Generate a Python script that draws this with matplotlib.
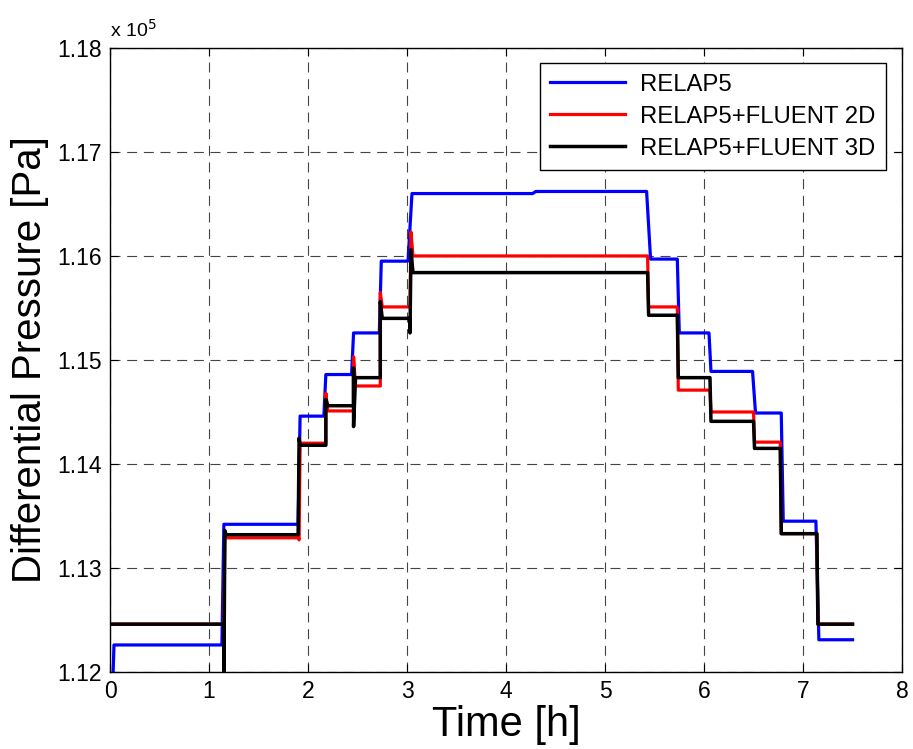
import matplotlib
matplotlib.use('Agg')
import matplotlib.pyplot as plt

plt.rcParams['font.family'] = ['Liberation Sans', 'DejaVu Sans']

# time [h] and differential pressure [x 1e5 Pa]
relap5_t = [0.03, 0.04, 1.13, 1.15, 1.90, 1.92, 2.16, 2.18, 2.44, 2.46, 2.72, 2.74,
            3.01, 3.05, 4.27, 4.30, 5.42, 5.46, 5.73, 5.75, 6.05, 6.07, 6.49, 6.52,
            6.78, 6.80, 7.13, 7.16, 7.50]
relap5_p = [1.1195, 1.1226, 1.1226, 1.1342, 1.1342, 1.1446, 1.1446, 1.1486, 1.1486, 1.1526,
            1.1526, 1.1595, 1.1595, 1.1660, 1.1660, 1.1662, 1.1662, 1.1597, 1.1597, 1.1526,
            1.1526, 1.1489, 1.1489, 1.1449, 1.1449, 1.1345, 1.1345, 1.1231, 1.1231]

fl2d_t = [0.00, 1.15, 1.16, 1.90, 1.91, 1.92, 2.18, 2.18, 2.20, 2.46, 2.46, 2.48,
          2.73, 2.73, 2.75, 3.03, 3.04, 3.06, 5.43, 5.44, 5.73, 5.74, 6.06, 6.07,
          6.50, 6.51, 6.77, 6.78, 7.14, 7.15, 7.50]
fl2d_p = [1.1246, 1.1246, 1.1329, 1.1329, 1.1327, 1.1420, 1.1420, 1.1468, 1.1451, 1.1451,
          1.1503, 1.1475, 1.1475, 1.1565, 1.1551, 1.1551, 1.1623, 1.1600, 1.1600, 1.1551,
          1.1551, 1.1471, 1.1471, 1.1450, 1.1450, 1.1421, 1.1421, 1.1333, 1.1333, 1.1246,
          1.1246]

fl3d_t = [0.00, 1.15, 1.15, 1.16, 1.17, 1.90, 1.91, 1.92, 2.18, 2.18, 2.20, 2.46,
          2.46, 2.46, 2.48, 2.73, 2.73, 2.75, 3.03, 3.03, 3.04, 3.06, 5.43, 5.44,
          5.73, 5.74, 6.06, 6.07, 6.50, 6.51, 6.77, 6.78, 7.14, 7.15, 7.50]
fl3d_p = [1.1246, 1.1246, 1.1190, 1.1336, 1.1332, 1.1332, 1.1425, 1.1418, 1.1418, 1.1462,
          1.1456, 1.1456, 1.1492, 1.1436, 1.1483, 1.1483, 1.1556, 1.1540, 1.1540, 1.1526,
          1.1606, 1.1584, 1.1584, 1.1543, 1.1543, 1.1483, 1.1483, 1.1441, 1.1441, 1.1415,
          1.1415, 1.1333, 1.1333, 1.1246, 1.1246]

fig = plt.figure(figsize=(9.13, 7.49), dpi=100)
ax = fig.add_axes([0.1205, 0.1028, 0.8675, 0.8332])

ax.plot(relap5_t, relap5_p, color='#0000ff', lw=2.3, label='RELAP5')
ax.plot(fl2d_t, fl2d_p, color='#ff0000', lw=2.3, label='RELAP5+FLUENT 2D')
ax.plot(fl3d_t, fl3d_p, color='black', lw=2.5, label='RELAP5+FLUENT 3D')

ax.set_xlim(0, 8)
ax.set_ylim(1.12, 1.18)
ax.set_xticks(range(0, 9))
ax.set_yticks([1.12, 1.13, 1.14, 1.15, 1.16, 1.17, 1.18])
ax.set_yticklabels(['1.12', '1.13', '1.14', '1.15', '1.16', '1.17', '1.18'])
ax.tick_params(direction='in', top=True, right=True, length=6, labelsize=16.5, pad=6)
ax.grid(True, color='#444444', linestyle=(0, (9, 6)), linewidth=0.8)
for s in ax.spines.values():
    s.set_linewidth(1.0)

ax.set_xlabel('Time [h]', fontsize=30, labelpad=1)
ax.set_ylabel('Differential Pressure [Pa]', fontsize=29, labelpad=6)
ax.text(0.0, 1.012, r'x 10$^5$', transform=ax.transAxes, fontsize=14,
        ha='left', va='bottom')

leg = ax.legend(loc='upper right', bbox_to_anchor=(0.98, 0.976), borderaxespad=0,
                fontsize=17.2, handlelength=3.1, handletextpad=0.65, borderpad=0.45,
                labelspacing=0.42, fancybox=False, framealpha=1, edgecolor='black')
leg.get_frame().set_linewidth(1.0)

fig.savefig('out.png', dpi=100)
